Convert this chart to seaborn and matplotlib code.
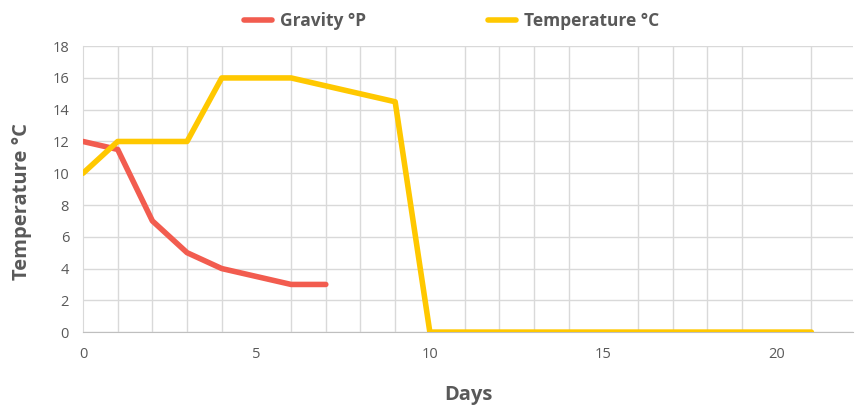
import matplotlib.pyplot as plt
import seaborn as sns
from matplotlib.ticker import MultipleLocator

# Data
temp_days = list(range(0, 22))
temp_c = [10, 12, 12, 12, 16, 16, 16, 15.5, 15, 14.5,
          0, 0, 0, 0, 0, 0, 0, 0, 0, 0, 0, 0]
gravity_days = [0, 1, 2, 3, 4, 5, 6, 7]
gravity_p = [12, 11.5, 7, 5, 4, 3.5, 3, 3]

sns.set_style("white")
plt.rcParams['font.family'] = ['Open Sans', 'DejaVu Sans']
grey = '#595959'

fig = plt.figure(figsize=(8.61, 4.05), dpi=100)
ax = fig.add_axes([0.0964, 0.180, 0.8943, 0.706])

sns.lineplot(x=gravity_days, y=gravity_p, ax=ax, color='#F25C4F', linewidth=4,
             label='Gravity °P', solid_capstyle='round', zorder=3)
sns.lineplot(x=temp_days, y=temp_c, ax=ax, color='#FFC800', linewidth=4,
             label='Temperature °C', solid_capstyle='round', zorder=3)

ax.set_xlim(0, 22.2)
ax.set_ylim(0, 18)
ax.xaxis.set_major_locator(MultipleLocator(5))
ax.yaxis.set_major_locator(MultipleLocator(2))
ax.set_xticks(range(0, 22), minor=True)
ax.grid(True, which='major', axis='y', color='#d9d9d9', linewidth=1)
ax.grid(True, which='minor', axis='x', color='#d9d9d9', linewidth=1)
ax.tick_params(axis='both', which='both', length=0, labelsize=10.5, colors=grey)
ax.tick_params(axis='x', pad=11)
ax.tick_params(axis='y', pad=10)

for side in ['top', 'right']:
    ax.spines[side].set_visible(False)
ax.spines['left'].set_color('#d9d9d9')
ax.spines['bottom'].set_color('#bfbfbf')

ax.set_xlabel('Days', fontsize=14.5, fontweight='bold', color=grey, labelpad=16)
ax.set_ylabel('Temperature °C', fontsize=14.5, fontweight='bold', color=grey)
ax.yaxis.set_label_coords(-0.066, 0.455)

leg = ax.legend(loc='upper center', bbox_to_anchor=(0.479, 1.175), ncol=2, frameon=False,
                fontsize=12.5, columnspacing=7, handlelength=1.6, handletextpad=0.5)
for t in leg.get_texts():
    t.set_color(grey)
    t.set_fontweight('bold')

plt.savefig('out.png', dpi=100)
